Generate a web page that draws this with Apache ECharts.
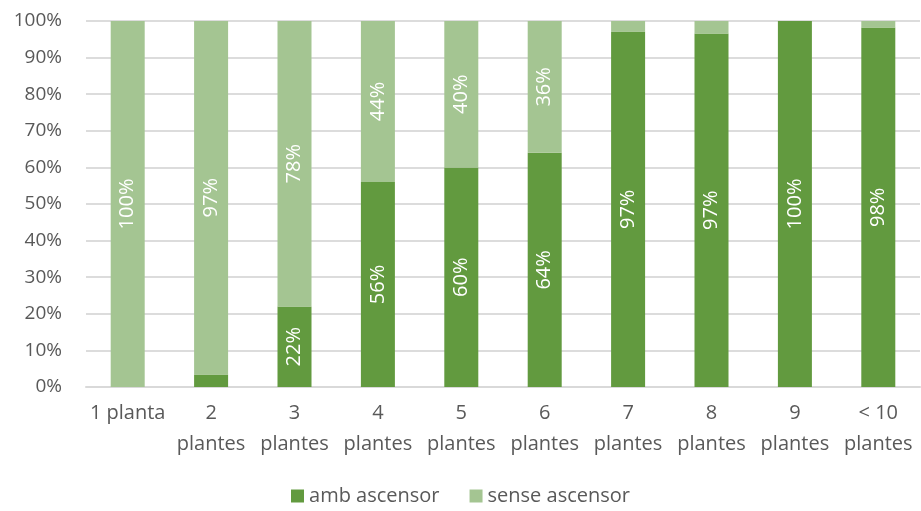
<!DOCTYPE html>
<html>
<head>
<meta charset="utf-8">
<script src="https://cdn.jsdelivr.net/npm/echarts@6/dist/echarts.min.js"></script>
<style>
  html, body { margin: 0; padding: 0; background: #fff; }
  #chart { width: 921px; height: 511px; }
</style>
</head>
<body>
<div id="chart"></div>
<script>
const categories = ['1 planta', '2\nplantes', '3\nplantes', '4\nplantes', '5\nplantes', '6\nplantes', '7\nplantes', '8\nplantes', '9\nplantes', '< 10\nplantes']
const ambAscensor = [0, 3.4, 22, 56, 60, 64, 97.1, 96.6, 100, 98.2]
const senseAscensor = [100, 96.6, 78, 44, 40, 36, 2.9, 3.4, 0, 1.8]

const font = 'Open Sans'
const textColor = '#595959'

// hide labels on thin segments, like the original
const labelFmt = (p) => (p.value < 5 ? '' : Math.round(p.value) + '%')

const barLabel = {
  show: true,
  position: 'inside',
  rotate: 90,
  color: '#fff',
  fontFamily: font,
  fontSize: 20,
  formatter: labelFmt,
}

const myChart = echarts.init(document.getElementById('chart'))
myChart.setOption({
  animation: false,
  textStyle: { fontFamily: font },
  grid: {
    left: 86,
    right: 1,
    top: 21,
    bottom: 124,
  },
  legend: {
    bottom: 0,
    left: 'center',
    itemWidth: 13,
    itemHeight: 13,
    itemGap: 30,
    icon: 'rect',
    textStyle: { color: textColor, fontFamily: font, fontSize: 20 },
    data: ['amb ascensor', 'sense ascensor'],
  },
  xAxis: {
    type: 'category',
    data: categories,
    axisTick: { show: false },
    axisLine: { lineStyle: { color: '#d9d9d9', width: 2 } },
    axisLabel: {
      color: textColor,
      fontFamily: font,
      fontSize: 20,
      lineHeight: 31,
      margin: 11,
      interval: 0,
      verticalAlign: 'top',
    },
  },
  yAxis: {
    type: 'value',
    min: 0,
    max: 100,
    interval: 10,
    axisLine: { show: false },
    axisTick: { show: false },
    splitLine: { lineStyle: { color: '#dcdcdc', width: 2 } },
    axisLabel: {
      color: textColor,
      fontFamily: font,
      fontSize: 19,
      margin: 24,
      formatter: '{value}%',
    },
  },
  series: [
    {
      name: 'amb ascensor',
      type: 'bar',
      stack: 'total',
      barWidth: 34,
      data: ambAscensor,
      itemStyle: { color: '#629a3f' },
      label: barLabel,
    },
    {
      name: 'sense ascensor',
      type: 'bar',
      stack: 'total',
      barWidth: 34,
      data: senseAscensor,
      itemStyle: { color: '#a4c592' },
      label: barLabel,
    },
  ],
})
</script>
</body>
</html>
